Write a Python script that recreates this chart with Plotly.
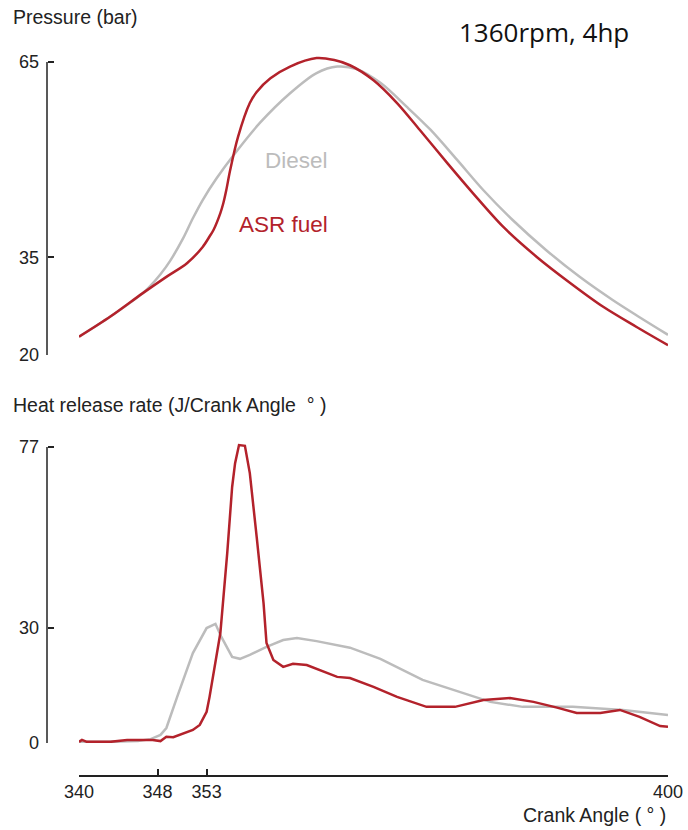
import plotly.graph_objects as go

# ---- In-cylinder pressure (bar) vs crank angle (deg) ----
p_asr_angle = [340.0, 343.2, 346.5, 348.9, 351.0, 352.6, 353.3, 353.7, 354.4, 354.7,
               355.0, 355.4, 356.2, 357.4, 358.1, 359.5, 361.5, 364.2, 366.0, 367.6,
               370.0, 372.4, 374.7, 377.5, 380.1, 383.2, 386.6, 390.0, 393.4, 396.8, 400.0]
p_asr = [22.8, 25.9, 29.5, 32.0, 34.1, 36.6, 38.2, 39.2, 41.8, 43.3,
         45.3, 48.4, 53.5, 58.7, 60.4, 62.5, 64.3, 65.6, 65.3, 64.5,
         62.2, 58.7, 54.6, 49.5, 44.9, 39.7, 35.1, 31.1, 27.4, 24.3, 21.5]

p_diesel_angle = [340.0, 343.2, 346.5, 347.2, 348.3, 349.3, 350.6, 351.6, 352.6, 354.0,
                  355.7, 358.4, 361.5, 364.2, 366.3, 368.3, 370.7, 373.4, 375.8,
                  378.5, 381.2, 384.2, 387.6, 391.0, 394.4, 397.1, 400.0]
p_diesel = [22.8, 25.9, 29.5, 30.5, 32.4, 34.5, 37.9, 41.0, 43.8, 47.1,
            50.6, 55.6, 60.2, 63.3, 64.3, 63.9, 61.8, 58.1, 54.6,
            50.0, 45.3, 40.7, 36.1, 32.0, 28.4, 25.8, 23.1]

# ---- Heat release rate (J/deg) vs crank angle (deg) ----
h_asr_angle = [340.0, 340.3, 340.8, 343.2, 344.9, 347.5, 348.3, 348.9, 349.6, 350.3,
               351.6, 352.3, 353.0, 353.3, 354.4, 355.1, 355.6, 355.9, 356.3, 356.9,
               357.4, 358.1, 358.8, 359.1, 359.8, 360.8, 361.8, 363.2, 364.9, 366.3,
               367.6, 370.0, 372.4, 375.4, 378.3, 381.2, 383.9, 386.3, 388.7, 390.7,
               393.1, 395.1, 397.1, 399.2, 400.0]
h_asr = [0.3, 0.8, 0.3, 0.3, 0.8, 0.8, 0.5, 1.6, 1.5, 2.1,
         3.4, 4.7, 8.1, 12.0, 28.6, 49.4, 66.6, 72.8, 77.5, 77.3,
         70.2, 53.6, 36.4, 26.0, 21.6, 19.8, 20.6, 20.3, 18.5, 17.2,
         16.9, 14.6, 12.0, 9.4, 9.4, 11.2, 11.7, 10.7, 9.2, 7.8,
         7.8, 8.6, 6.8, 4.4, 4.2]

h_diesel_angle = [340.0, 343.0, 346.0, 347.3, 348.3, 348.6, 348.9, 350.0, 351.6, 353.0,
                  353.9, 354.5, 355.6, 356.4, 357.4, 359.1, 360.8, 362.2, 364.2, 367.6,
                  370.7, 375.0, 379.1, 381.9, 385.2, 390.3, 395.4, 400.0]
h_diesel = [0.3, 0.3, 0.5, 1.0, 2.1, 2.9, 3.9, 12.0, 23.4, 29.9,
            31.0, 27.6, 22.4, 21.9, 22.9, 25.0, 26.8, 27.3, 26.5, 24.8,
            21.9, 16.4, 13.1, 10.7, 9.4, 9.4, 8.6, 7.3]

x_ticks = [340, 348, 353, 400]
p_ticks = [20, 35, 65]
h_ticks = [0, 30, 77]

RED = "#b3222b"
GRAY = "#bcbcbc"
INK = "#222222"
FONT = "Liberation Sans, Arial, sans-serif"

W, H = 688, 830

# pixel layout of the two panels
X_LEFT, X_RIGHT = 79, 668          # 340 .. 400 deg
Y_AXIS_X = 47                       # detached vertical axes
P_TOP_PX, P_BOT_PX = 62, 355        # 65 .. 20 bar
H_TOP_PX, H_BOT_PX = 447, 743       # 77 .. 0 J/deg
X_AXIS_Y = 776                      # detached crank-angle axis
P_MAX, H_MAX = 67.5, 80.0           # headroom so peaks are not clipped


def px_x(px):
    return px / W


def px_y(py):
    return 1 - py / H


p_scale = (P_BOT_PX - P_TOP_PX) / (65 - 20)
h_scale = (H_BOT_PX - H_TOP_PX) / 77
p_dom_top = P_BOT_PX - (P_MAX - 20) * p_scale
h_dom_top = H_BOT_PX - H_MAX * h_scale

fig = go.Figure()

fig.add_trace(go.Scatter(x=p_diesel_angle, y=p_diesel, mode="lines",
                         line=dict(color=GRAY, width=2.5, shape="spline", smoothing=0.9),
                         xaxis="x", yaxis="y", showlegend=False, hoverinfo="skip"))
fig.add_trace(go.Scatter(x=p_asr_angle, y=p_asr, mode="lines",
                         line=dict(color=RED, width=2.5, shape="spline", smoothing=0.9),
                         xaxis="x", yaxis="y", showlegend=False, hoverinfo="skip"))
fig.add_trace(go.Scatter(x=h_diesel_angle, y=h_diesel, mode="lines",
                         line=dict(color=GRAY, width=2.5),
                         xaxis="x2", yaxis="y2", showlegend=False, hoverinfo="skip"))
fig.add_trace(go.Scatter(x=h_asr_angle, y=h_asr, mode="lines",
                         line=dict(color=RED, width=2.5),
                         xaxis="x2", yaxis="y2", showlegend=False, hoverinfo="skip"))

x_dom = [px_x(X_LEFT), px_x(X_RIGHT)]
tick_style = dict(showgrid=False, zeroline=False, automargin=False,
                  ticks="inside", ticklen=6, tickwidth=1.5, tickcolor=INK,
                  tickfont=dict(family=FONT, size=18, color=INK))

fig.update_layout(
    width=W, height=H,
    margin=dict(l=0, r=0, t=0, b=0, pad=0, autoexpand=False),
    paper_bgcolor="white", plot_bgcolor="white",
    xaxis=dict(domain=x_dom, range=[340, 400], visible=False, anchor="y",
               automargin=False),
    yaxis=dict(domain=[px_y(P_BOT_PX), px_y(p_dom_top)], range=[20, P_MAX],
               anchor="free", position=px_x(Y_AXIS_X), tickvals=p_ticks,
               showline=False, ticklabelstandoff=8, **tick_style),
    xaxis2=dict(domain=x_dom, range=[340, 400], anchor="free", position=px_y(X_AXIS_Y),
                tickvals=x_ticks, showline=True, linecolor=INK, linewidth=1.5,
                **tick_style),
    yaxis2=dict(domain=[px_y(H_BOT_PX), px_y(h_dom_top)], range=[0, H_MAX],
                anchor="free", position=px_x(Y_AXIS_X), tickvals=h_ticks,
                showline=False, ticklabelstandoff=8, **tick_style),
)

# vertical axis lines spanning only the labelled ranges
for top_px, bot_px in [(P_TOP_PX, P_BOT_PX), (H_TOP_PX, H_BOT_PX)]:
    fig.add_shape(type="line", xref="paper", yref="paper",
                  x0=px_x(Y_AXIS_X), x1=px_x(Y_AXIS_X),
                  y0=px_y(bot_px), y1=px_y(top_px),
                  line=dict(color=INK, width=1.5), layer="above")

text_font = dict(family=FONT, size=19.5, color=INK)
annotations = [
    dict(text="Pressure (bar)", x=px_x(11), y=px_y(17), xanchor="left", yanchor="middle",
         font=text_font),
    dict(text="Heat release rate (J/Crank Angle &#160;° )", x=px_x(11), y=px_y(405),
         xanchor="left", yanchor="middle", font=text_font),
    dict(text="Crank Angle ( ° )", x=px_x(668), y=px_y(815), xanchor="right",
         yanchor="middle", font=text_font),
    dict(text="1360rpm, 4hp", x=px_x(544), y=px_y(32), xanchor="center", yanchor="middle",
         font=dict(family="Open Sans, sans-serif", size=26, color="#111111")),
]
for a in annotations:
    a.update(xref="paper", yref="paper", showarrow=False)

annotations += [
    dict(text="Diesel", x=365.6, y=49.8, xref="x", yref="y", xanchor="right",
         yanchor="middle", showarrow=False, font=dict(family=FONT, size=22.5, color=GRAY)),
    dict(text="ASR fuel", x=365.6, y=40.0, xref="x", yref="y", xanchor="right",
         yanchor="middle", showarrow=False, font=dict(family=FONT, size=22.5, color=RED)),
]
fig.update_layout(annotations=annotations)

fig.write_html("out.html")
